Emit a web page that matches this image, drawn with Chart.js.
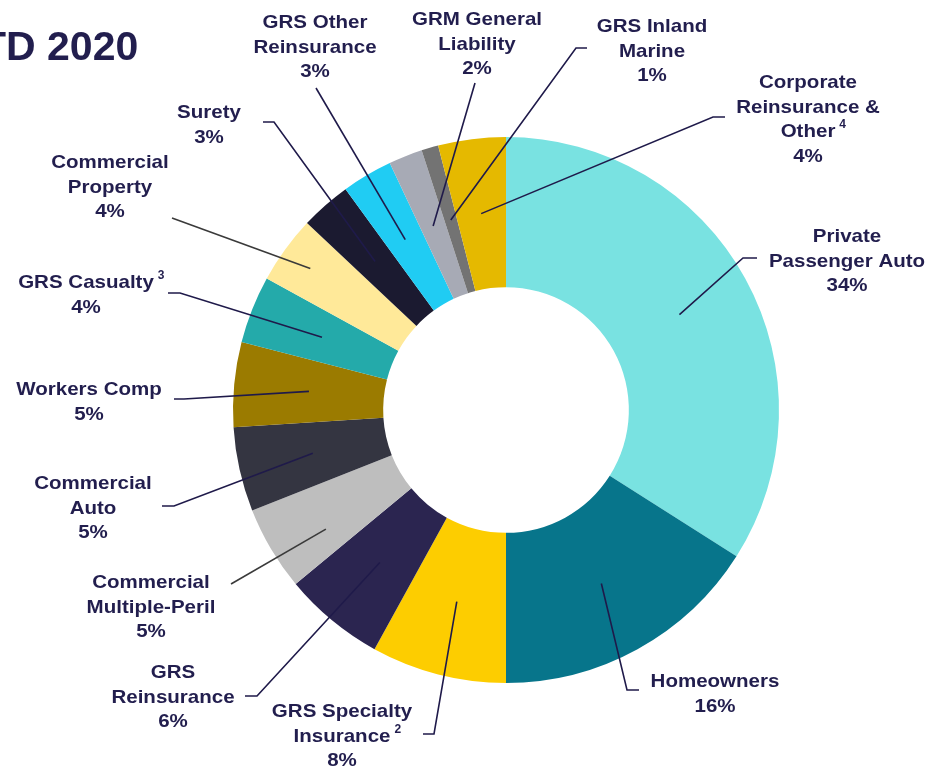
<!DOCTYPE html>
<html>
<head>
<meta charset="utf-8">
<script src="https://cdn.jsdelivr.net/npm/chart.js@4.4.0/dist/chart.umd.min.js"></script>
<style>
  html, body { margin: 0; padding: 0; background: #fff; }
  #wrap { position: relative; width: 929px; height: 768px; }
</style>
</head>
<body>
<div id="wrap"><canvas id="mixChart" width="929" height="768"></canvas></div>
<script>
(() => {
  // segments, clockwise from 12 o'clock
  const categories = [
    "Private\nPassenger Auto",
    "Homeowners",
    "GRS Specialty\nInsurance",
    "GRS\nReinsurance",
    "Commercial\nMultiple-Peril",
    "Commercial\nAuto",
    "Workers Comp",
    "GRS Casualty",
    "Commercial\nProperty",
    "Surety",
    "GRS Other\nReinsurance",
    "GRM General\nLiability",
    "GRS Inland\nMarine",
    "Corporate\nReinsurance &\nOther",
  ];
  const shares = [34, 16, 8, 6, 5, 5, 5, 4, 4, 3, 3, 2, 1, 4];
  const footnotes = ["", "", "2", "", "", "", "", "3", "", "", "", "", "", "4"];
  const colors = [
    "#79e2e1", "#07758b", "#fdcd00", "#2b2550", "#bebebe", "#343541", "#9b7b00",
    "#24aaaa", "#ffe999", "#1b1a30", "#20ccf3", "#a7aab5", "#737373", "#e5b900",
  ];

  const ink = "#221e4e";
  const lineHeight = 24.5;

  // where each label sits and the stub that leads from it to its slice;
  // tip = [fraction along the slice, fraction from inner to outer edge]
  const labelLayout = [
    { cx: 847, y: 242, stub: [[757, 258], [743, 258]] },
    { cx: 715, y: 687, stub: [[639, 690], [627, 690]] },
    { cx: 342, y: 717, stub: [[423, 734], [434, 734]] },
    { cx: 173, y: 678, stub: [[245, 696], [257, 696]] },
    { cx: 151, y: 588, stub: [[231, 584]], grey: true, tip: [0.34, 0.62] },
    { cx: 93, y: 489, stub: [[162, 506], [174, 506]] },
    { cx: 89, y: 395, stub: [[174, 399], [184, 399]] },
    { cx: 86, y: 288, stub: [[168, 293], [180, 293]] },
    { cx: 110, y: 168, stub: [[172, 218]], grey: true, tip: [0.49, 0.79] },
    { cx: 209, y: 118, stub: [[263, 122], [274, 122]] },
    { cx: 315, y: 28, stub: [[316, 88]] },
    { cx: 477, y: 25, stub: [[475, 83]] },
    { cx: 652, y: 32, stub: [[587, 48], [576, 48]] },
    { cx: 808, y: 88, stub: [[725, 117], [713, 117]] },
  ];

  const font = (px) => `bold ${px}px "Liberation Sans", Arial, sans-serif`;

  // Arial-like text in the source is slightly wide, so stretch it a touch
  function wideText(c, text, x, y) {
    c.save();
    c.font = font(19);
    const w = c.measureText(text).width * 1.08;
    const left = x - w / 2;
    c.translate(left, y);
    c.scale(1.08, 1);
    c.textAlign = "left";
    c.fillText(text, 0, 0);
    c.restore();
    return left + w;
  }

  function tipPoint(arc, tip) {
    if (!tip) return arc.getCenterPoint();
    const p = arc.getProps(["x", "y", "startAngle", "endAngle", "innerRadius", "outerRadius"]);
    const a = p.startAngle + (p.endAngle - p.startAngle) * tip[0];
    const r = p.innerRadius + (p.outerRadius - p.innerRadius) * tip[1];
    return { x: p.x + Math.cos(a) * r, y: p.y + Math.sin(a) * r };
  }

  const calloutPlugin = {
    id: "callouts",
    afterDraw(chart) {
      const c = chart.ctx;
      const arcs = chart.getDatasetMeta(0).data;

      c.save();
      c.fillStyle = ink;
      c.textBaseline = "alphabetic";
      c.font = font(41);
      c.fillText("TD 2020", -19, 60);

      arcs.forEach((arc, i) => {
        const lay = labelLayout[i];
        const p = tipPoint(arc, lay.tip);

        c.beginPath();
        c.strokeStyle = lay.grey ? "#3a3a3a" : "#1f1a4a";
        c.lineWidth = 1.6;
        c.moveTo(lay.stub[0][0], lay.stub[0][1]);
        lay.stub.slice(1).forEach((s) => c.lineTo(s[0], s[1]));
        c.lineTo(p.x, p.y);
        c.stroke();

        const lines = categories[i].split("\n");
        lines.push(`${shares[i]}%`);
        c.fillStyle = ink;
        lines.forEach((t, k) => {
          const y = lay.y + k * lineHeight;
          const end = wideText(c, t, lay.cx, y);
          if (footnotes[i] && k === lines.length - 2) {
            c.font = font(12);
            c.fillText(footnotes[i], end + 4, y - 9);
          }
        });
      });
      c.restore();
    },
  };

  new Chart(document.getElementById("mixChart"), {
    type: "doughnut",
    data: {
      labels: categories,
      datasets: [{
        data: shares,
        backgroundColor: colors,
        borderWidth: 0,
        hoverOffset: 0,
        offset: 0,
        spacing: 0,
      }],
    },
    options: {
      responsive: false,
      animation: false,
      cutout: "45%",
      layout: { padding: { top: 137, bottom: 85, left: 233, right: 150 } },
      plugins: {
        legend: { display: false },
        tooltip: { enabled: false },
      },
    },
    plugins: [calloutPlugin],
  });
})();
</script>
</body>
</html>
